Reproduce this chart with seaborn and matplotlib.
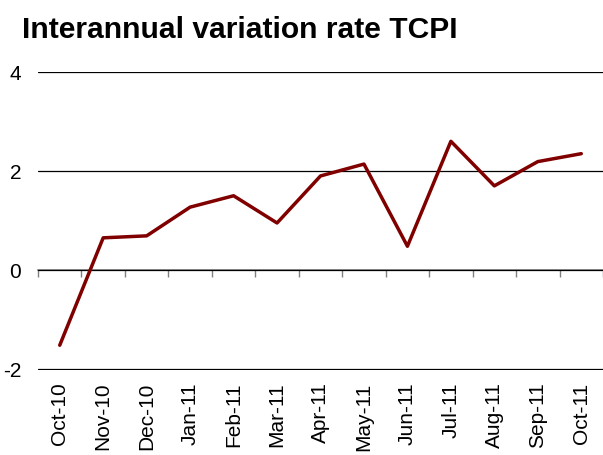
import numpy as np
import pandas as pd
import matplotlib
matplotlib.use('Agg')
import matplotlib.pyplot as plt
import seaborn as sns

months = ['Oct-10', 'Nov-10', 'Dec-10', 'Jan-11', 'Feb-11', 'Mar-11', 'Apr-11',
          'May-11', 'Jun-11', 'Jul-11', 'Aug-11', 'Sep-11', 'Oct-11']
tcpi = [-1.52, 0.65, 0.69, 1.27, 1.50, 0.95, 1.90, 2.14, 0.48, 2.60, 1.70, 2.19, 2.35]

sns.set_style('white')
plt.rcParams['font.family'] = ['Liberation Sans', 'DejaVu Sans']
plt.rcParams['axes.unicode_minus'] = False
plt.rcParams['text.color'] = 'black'
plt.rcParams['xtick.color'] = 'black'
plt.rcParams['ytick.color'] = 'black'

df = pd.DataFrame({'pos': np.arange(len(months)), 'value': tcpi})

fig = plt.figure(figsize=(6.03, 4.55), dpi=100)
ax = fig.add_axes([38 / 603, 1 - 370 / 455, 1 - 38 / 603, (370 - 72) / 455])

# gridlines
ax.set_ylim(-2.02, 4)
ax.set_yticks([-2, 0, 2, 4])
ax.yaxis.grid(True, color='black', linewidth=0.9)
ax.set_axisbelow(True)

sns.lineplot(data=df, x='pos', y='value', ax=ax, color='#800000', linewidth=2.5)

ax.set_xlim(-0.5, len(months) - 0.5)
ax.set_xticks(df['pos'])
ax.set_xticklabels(months, rotation=90, fontsize=15)
ax.tick_params(axis='x', length=0, pad=9)
ax.tick_params(axis='y', length=0, pad=12, labelsize=15)
ax.set_xlabel('')
ax.set_ylabel('')
for s in ax.spines.values():
    s.set_visible(False)

# category axis drawn at zero
zero_ax = ax.secondary_xaxis(2.02 / 6.02)
zero_ax.set_xticks(np.arange(len(months) + 1) - 0.5)
zero_ax.tick_params(length=5, labelbottom=False, color='#808080', width=1)
zero_ax.spines['bottom'].set_color('#808080')
zero_ax.spines['bottom'].set_linewidth(1.2)

fig.text(22 / 603, 1 - 16 / 455, 'Interannual variation rate TCPI',
         fontsize=21.6, fontweight='bold', va='top', ha='left')

fig.savefig('out.png', dpi=100)
